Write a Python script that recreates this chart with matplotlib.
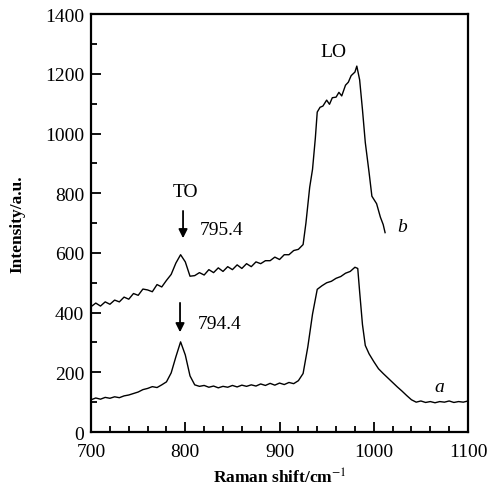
import matplotlib
matplotlib.use('Agg')
import matplotlib.pyplot as plt
from matplotlib.ticker import MultipleLocator

plt.rcParams['font.family'] = ['Liberation Serif', 'DejaVu Serif']
plt.rcParams['mathtext.fontset'] = 'stix'

# curve a (lower)
shiftA = [700, 705, 710, 715, 720, 725, 730, 735, 740, 745, 750, 755, 760, 765, 770, 775,
          780, 785, 790, 795, 800, 805, 810, 815, 820, 825, 830, 835, 840, 845, 850, 855,
          860, 865, 870, 875, 880, 885, 890, 895, 900, 905, 910, 915, 920, 925, 930, 935,
          940, 945, 950, 955, 960, 965, 970, 975, 980, 983, 985, 988, 991, 995, 1000, 1005,
          1010, 1015, 1020, 1025, 1030, 1035, 1040, 1045, 1050, 1055, 1060, 1065, 1070,
          1075, 1080, 1085, 1090, 1095, 1100]
intA = [108, 114, 110, 116, 113, 118, 115, 121, 124, 129, 134, 142, 146, 152, 149, 158,
        168, 198, 252, 302, 258, 188, 158, 153, 156, 150, 154, 148, 153, 150, 156, 151,
        157, 153, 158, 154, 161, 156, 163, 157, 164, 159, 166, 162, 172, 196, 285, 395,
        478, 490, 500, 505, 515, 521, 532, 538, 552, 548, 470, 360, 290, 262, 236, 212,
        196, 181, 166, 151, 137, 122, 108, 100, 104, 99, 102, 98, 102,
        100, 104, 99, 102, 100, 104]

# curve b (upper)
shiftB = [700, 705, 710, 715, 720, 725, 730, 735, 740, 745, 750, 755, 760, 765, 770, 775,
          780, 785, 790, 795, 800, 805, 810, 815, 820, 825, 830, 835, 840, 845, 850, 855,
          860, 865, 870, 875, 880, 885, 890, 895, 900, 905, 910, 915, 920, 925, 928, 932,
          935, 938, 940, 943, 946, 950, 953, 956, 960, 963, 966, 970, 973, 976, 980, 982,
          985, 988, 991, 995, 998, 1003, 1007, 1010, 1012]
intB = [420, 432, 422, 436, 428, 442, 436, 452, 445, 464, 458, 479, 476, 470, 494, 486,
        508, 528, 566, 594, 570, 522, 524, 534, 526, 544, 534, 550, 538, 554, 544, 560,
        548, 564, 554, 570, 564, 574, 574, 586, 578, 594, 594, 608, 612, 628, 700, 820,
        880, 985, 1072, 1088, 1092, 1112, 1098, 1120, 1122, 1138, 1126, 1162, 1172, 1194, 1206, 1226,
        1180, 1080, 970, 870, 790, 765, 720, 695, 668]

fig = plt.figure(figsize=(4.87, 4.89), dpi=100)
ax = fig.add_axes([0.187, 0.1145, 0.774, 0.8545])

ax.plot(shiftA, intA, color='black', linewidth=1.0)
ax.plot(shiftB, intB, color='black', linewidth=1.0)

ax.set_xlim(700, 1100)
ax.set_ylim(0, 1400)
ax.xaxis.set_major_locator(MultipleLocator(100))
ax.xaxis.set_minor_locator(MultipleLocator(20))
ax.yaxis.set_major_locator(MultipleLocator(200))
ax.yaxis.set_minor_locator(MultipleLocator(100))
ax.tick_params(which='both', direction='in', top=False, right=False, labelsize=14, width=1.3)
ax.tick_params(axis='x', which='both', pad=8)
ax.tick_params(axis='y', which='both', pad=5)
ax.tick_params(which='major', length=7)
ax.tick_params(which='minor', length=4)
for sp in ax.spines.values():
    sp.set_linewidth(1.6)

ax.set_xlabel('Raman shift/cm$^{-1}$', fontsize=12.5, fontweight='bold')
ax.set_ylabel('Intensity/a.u.', fontsize=12.5, fontweight='bold')
ax.xaxis.set_label_coords(0.5, -0.085)
ax.yaxis.set_label_coords(-0.175, 0.5)

ax.text(800, 807, 'TO', fontsize=14, ha='center', va='center')
ax.annotate('', xy=(797.6, 640), xytext=(797.6, 750),
            arrowprops=dict(arrowstyle='-|>', color='black', lw=1.3, mutation_scale=13))
ax.text(815, 680, '795.4', fontsize=14, ha='left', va='center')
ax.text(957, 1276, 'LO', fontsize=14, ha='center', va='center')
ax.text(1030, 687, 'b', fontsize=14, ha='center', va='center', style='italic')
ax.annotate('', xy=(794.4, 325), xytext=(794.4, 442),
            arrowprops=dict(arrowstyle='-|>', color='black', lw=1.3, mutation_scale=13))
ax.text(813, 362, '794.4', fontsize=14, ha='left', va='center')
ax.text(1070, 154, 'a', fontsize=14, ha='center', va='center', style='italic')

fig.savefig('out.png', dpi=100)
